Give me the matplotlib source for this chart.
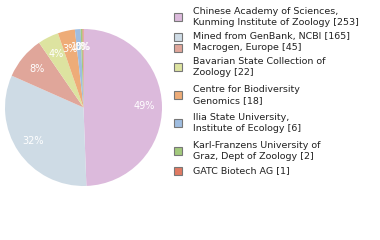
import matplotlib.pyplot as plt
from matplotlib.patches import Rectangle

labels = ["Chinese Academy of Sciences,\nKunming Institute of Zoology [253]",
          "Mined from GenBank, NCBI [165]",
          "Macrogen, Europe [45]",
          "Bavarian State Collection of\nZoology [22]",
          "Centre for Biodiversity\nGenomics [18]",
          "Ilia State University,\nInstitute of Ecology [6]",
          "Karl-Franzens University of\nGraz, Dept of Zoology [2]",
          "GATC Biotech AG [1]"]
counts = [253, 165, 45, 22, 18, 6, 2, 1]
colors = ['#dcbadc', '#cedbe5', '#e0a69a', '#dde3a0', '#eeac78',
          '#9fbde0', '#a2c97c', '#e07a62']

W, H = 380, 240
fig = plt.figure(figsize=(W / 100, H / 100), dpi=100)
cx, cy, r = 83.5, 107.5, 78.5
ax = fig.add_axes([(cx - r) / W, (H - cy - r) / H, 2 * r / W, 2 * r / H])
wedges, texts, autotexts = ax.pie(counts, colors=colors, startangle=90, counterclock=False,
                                  autopct=lambda p: '%d%%' % int(p), pctdistance=0.77,
                                  wedgeprops=dict(linewidth=0),
                                  textprops=dict(color='white', fontsize=7))
ax.set_xlim(-1, 1)
ax.set_ylim(-1, 1)
ax.set_aspect('auto')

# legend drawn by hand, in pixels from top-left
y = 3
for lab, col in zip(labels, colors):
    n = lab.count('\n') + 1
    h = 11 if n == 1 else 28
    yc = y + h / 2
    fig.patches.append(Rectangle((174 / W, 1 - (yc + 4) / H), 8 / W, 8 / H,
                                 facecolor=col, edgecolor='#777777', linewidth=0.8,
                                 transform=fig.transFigure, figure=fig))
    fig.text(193 / W, 1 - yc / H, lab, fontsize=6.8, va='center', ha='left',
             color='#222222', linespacing=1.2)
    y += h

fig.savefig('out.png', dpi=100)
